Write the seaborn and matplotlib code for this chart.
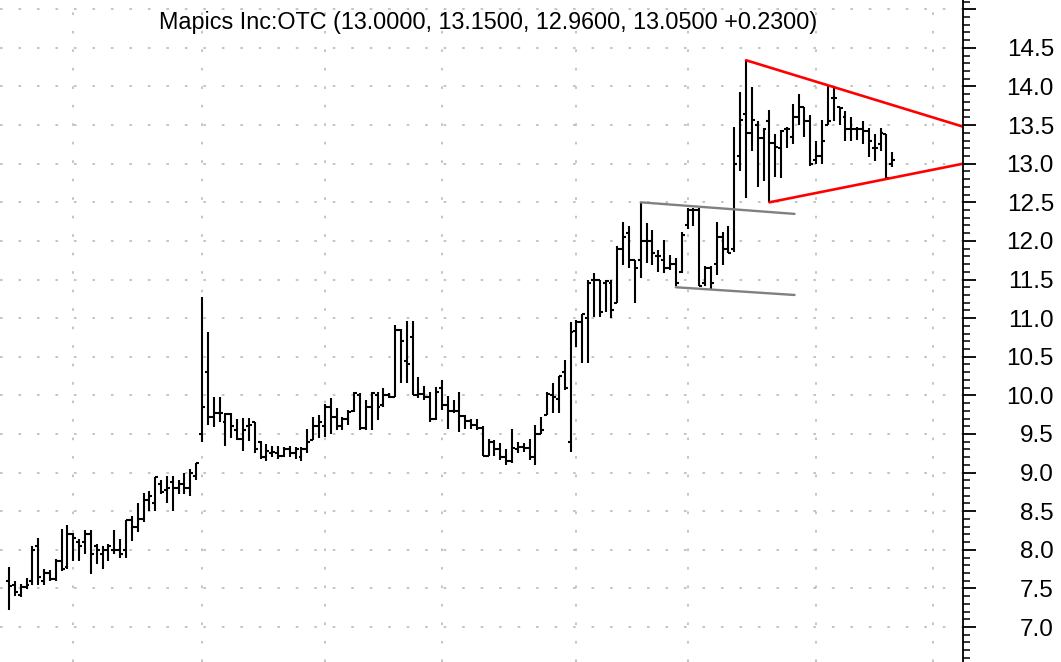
import numpy as np
import matplotlib
matplotlib.use("Agg")
import matplotlib.pyplot as plt
import seaborn as sns

# daily OHLC bars
opens = [7.60, 7.55, 7.42, 7.52, 7.60, 8.05, 7.60, 7.70, 7.62, 7.85,
         7.78, 8.20, 8.10, 8.10, 8.20, 8.05, 7.95, 8.00, 8.00, 8.00,
         8.00, 8.38, 8.30, 8.40, 8.65, 8.60, 8.85, 8.78, 8.88, 8.80,
         8.85, 8.80, 8.95, 9.50, 10.30, 9.72, 9.77, 9.65, 9.76, 9.55,
         9.43, 9.60, 9.65, 9.40, 9.20, 9.25, 9.25, 9.22, 9.30, 9.25,
         9.20, 9.30, 9.42, 9.60, 9.60, 9.85, 9.72, 9.60, 9.70, 9.80,
         10.00, 9.58, 9.85, 10.00, 9.87, 10.00, 9.98, 10.85, 10.45, 10.76,
         10.00, 10.02, 9.98, 9.70, 10.10, 9.88, 9.80, 9.80, 9.73, 9.67,
         9.62, 9.58, 9.22, 9.40, 9.30, 9.20, 9.15, 9.30, 9.33, 9.32,
         9.20, 9.50, 9.75, 10.00, 9.95, 10.30, 9.40, 10.83, 10.95, 11.00,
         11.50, 11.50, 11.45, 11.45, 11.20, 11.90, 12.10, 11.75, 11.75, 12.00,
         12.00, 11.80, 11.75, 11.65, 11.70, 11.60, 12.20, 12.40, 12.40, 11.45,
         11.65, 11.70, 12.05, 11.90, 11.90, 13.10, 13.65, 13.40, 13.50, 13.33,
         13.55, 13.27, 13.20, 13.45, 13.35, 13.60, 13.74, 13.55, 13.05, 13.10,
         13.50, 13.85, 13.73, 13.60, 13.45, 13.45, 13.45, 13.42, 13.20, 13.25,
         13.39, 13.00]
highs = [7.78, 7.60, 7.56, 7.63, 8.05, 8.15, 7.75, 7.74, 7.88, 8.27,
         8.32, 8.22, 8.14, 8.26, 8.26, 8.07, 8.05, 8.07, 8.26, 8.14,
         8.38, 8.44, 8.60, 8.74, 8.76, 8.94, 8.90, 8.95, 8.95, 8.90,
         8.99, 9.05, 9.12, 11.28, 10.82, 9.98, 9.98, 9.77, 9.77, 9.69,
         9.71, 9.71, 9.65, 9.41, 9.37, 9.35, 9.35, 9.33, 9.35, 9.33,
         9.33, 9.57, 9.72, 9.74, 9.89, 9.96, 9.83, 9.72, 9.81, 10.05,
         10.03, 9.94, 10.05, 10.05, 10.09, 10.03, 10.91, 10.86, 10.96, 10.96,
         10.24, 10.12, 10.05, 10.11, 10.20, 9.99, 9.94, 10.05, 9.75, 9.70,
         9.70, 9.60, 9.44, 9.42, 9.38, 9.31, 9.57, 9.40, 9.38, 9.44,
         9.61, 9.72, 10.05, 10.16, 10.25, 10.46, 10.95, 10.98, 11.06, 11.49,
         11.58, 11.50, 11.50, 11.50, 11.93, 12.25, 12.19, 11.75, 12.50, 12.23,
         12.14, 11.88, 12.01, 11.82, 11.78, 12.12, 12.42, 12.42, 12.42, 11.67,
         11.67, 12.25, 12.12, 12.19, 13.48, 13.93, 14.34, 13.99, 13.55, 13.46,
         13.70, 13.39, 13.44, 13.48, 13.77, 13.90, 13.74, 13.63, 13.30, 13.56,
         14.02, 14.00, 13.74, 13.68, 13.61, 13.48, 13.55, 13.46, 13.39, 13.46,
         13.39, 13.15]
lows = [7.22, 7.40, 7.39, 7.49, 7.55, 7.55, 7.55, 7.60, 7.60, 7.73,
        7.75, 7.86, 7.86, 7.94, 7.69, 7.82, 7.75, 7.86, 7.94, 7.90,
        7.90, 8.12, 8.23, 8.36, 8.50, 8.50, 8.72, 8.60, 8.50, 8.72,
        8.72, 8.70, 8.90, 9.39, 9.61, 9.59, 9.65, 9.35, 9.45, 9.42,
        9.28, 9.41, 9.26, 9.18, 9.15, 9.20, 9.18, 9.20, 9.20, 9.18,
        9.15, 9.25, 9.42, 9.45, 9.46, 9.50, 9.55, 9.55, 9.62, 9.79,
        9.55, 9.55, 9.55, 9.68, 9.85, 9.96, 9.98, 10.16, 10.16, 10.00,
        9.97, 9.94, 9.66, 9.68, 9.81, 9.57, 9.77, 9.53, 9.57, 9.57,
        9.55, 9.21, 9.21, 9.21, 9.16, 9.10, 9.12, 9.25, 9.27, 9.16,
        9.10, 9.50, 9.75, 9.77, 9.77, 10.07, 9.27, 10.62, 10.42, 10.42,
        11.02, 11.02, 11.08, 11.00, 11.19, 11.69, 11.65, 11.19, 11.52, 11.71,
        11.69, 11.60, 11.58, 11.62, 11.41, 11.58, 12.16, 12.19, 11.41, 11.41,
        11.37, 11.56, 11.69, 11.84, 11.86, 12.90, 12.55, 13.16, 12.70, 12.77,
        12.50, 12.83, 12.82, 13.20, 13.26, 13.50, 13.35, 12.97, 13.00, 13.00,
        13.50, 13.55, 13.50, 13.29, 13.29, 13.31, 13.25, 13.09, 13.03, 13.16,
        12.82, 12.96]
closes = [7.53, 7.45, 7.52, 7.55, 8.00, 7.65, 7.70, 7.62, 7.85, 7.75,
          8.20, 8.15, 8.05, 8.20, 7.95, 8.00, 8.00, 8.05, 8.00, 7.95,
          8.38, 8.30, 8.40, 8.65, 8.70, 8.94, 8.75, 8.80, 8.80, 8.85,
          8.80, 9.00, 9.12, 9.85, 9.72, 9.77, 9.77, 9.76, 9.60, 9.43,
          9.55, 9.62, 9.30, 9.20, 9.28, 9.27, 9.22, 9.30, 9.25, 9.30,
          9.30, 9.40, 9.60, 9.65, 9.85, 9.72, 9.60, 9.70, 9.78, 10.03,
          9.58, 9.85, 10.03, 9.85, 10.00, 9.98, 10.85, 10.70, 10.40, 10.00,
          10.02, 9.98, 9.70, 10.05, 9.88, 9.80, 9.80, 9.73, 9.67, 9.62,
          9.58, 9.22, 9.40, 9.30, 9.20, 9.15, 9.32, 9.33, 9.32, 9.20,
          9.50, 9.55, 10.02, 9.98, 10.25, 10.10, 10.82, 10.95, 11.05, 11.46,
          11.50, 11.08, 11.48, 11.10, 11.90, 12.05, 11.75, 11.65, 12.00, 12.00,
          11.85, 11.80, 11.65, 11.70, 11.45, 12.08, 12.40, 12.40, 11.42, 11.65,
          11.45, 12.05, 11.90, 11.85, 13.00, 13.57, 13.40, 13.57, 13.33, 13.45,
          13.27, 13.22, 13.42, 13.45, 13.60, 13.74, 13.55, 13.00, 13.10, 13.30,
          13.55, 13.85, 13.72, 13.45, 13.45, 13.45, 13.42, 13.30, 13.20, 13.40,
          12.82, 13.05]

# first bar of each month (vertical grid)
month_starts = [11, 33, 54, 74, 97, 116, 138, 158]

# drawn trend lines: x in bar numbers, y in price
wedge_top_x, wedge_top_y = [126, 163.1], [14.34, 13.48]
wedge_bot_x, wedge_bot_y = [130, 163.1], [12.50, 13.00]
chan_top_x, chan_top_y = [108, 134.3], [12.50, 12.35]
chan_bot_x, chan_bot_y = [114, 134.3], [11.40, 11.30]

title = "Mapics Inc:OTC (13.0000, 13.1500, 12.9600, 13.0500 +0.2300)"

sns.set_style("white")
plt.rcParams['font.family'] = ['Liberation Sans', 'DejaVu Sans']

fig = plt.figure(figsize=(10.61, 6.62), dpi=100)
ax = fig.add_axes([0, 0, 963 / 1061, 1])

x = np.arange(len(opens))
ax.vlines(x, lows, highs, color='black', lw=1.5)
ax.hlines(opens, x - 0.5, x, color='black', lw=1.5)
ax.hlines(closes, x, x + 0.5, color='black', lw=1.5)

ax.plot(wedge_top_x, wedge_top_y, color='#ff0000', lw=1.9)
ax.plot(wedge_bot_x, wedge_bot_y, color='#ff0000', lw=1.9)
ax.plot(chan_top_x, chan_top_y, color='#808080', lw=1.7)
ax.plot(chan_bot_x, chan_bot_y, color='#808080', lw=1.7)

ax.set_xlim(-1.54, 163.1)
ax.set_ylim(6.547, 15.12)

ax.set_xticks(month_starts)
ax.set_xticklabels([])
ax.tick_params(axis='x', length=0)

yt = np.arange(7.0, 15.01, 0.5)
ax.set_yticks(yt)
ax.set_yticklabels([f"{v:.1f}" if v < 14.9 else "" for v in yt])
ax.set_yticks(np.arange(6.6, 15.11, 0.1), minor=True)
ax.yaxis.tick_right()
ax.tick_params(axis='y', which='major', length=9, width=1.3, color='black',
               direction='out', labelsize=17.5, labelcolor='black', pad=56.5)
ax.tick_params(axis='y', which='minor', length=5, width=1.1, color='black',
               direction='out')
for lab in ax.get_yticklabels():
    lab.set_horizontalalignment('right')

ax.grid(True, which='major', color='#b4b4b4', linestyle=(0, (1.7, 10.4)), lw=1.1)
ax.set_axisbelow(True)
for s in ['left', 'top', 'bottom']:
    ax.spines[s].set_visible(False)
ax.spines['right'].set_color('black')
ax.spines['right'].set_linewidth(1.3)

fig.text(488 / 1061, 1 - 23 / 662, title, ha='center', va='center',
         fontsize=16.8, color='black')

fig.savefig("out.png", dpi=100)
